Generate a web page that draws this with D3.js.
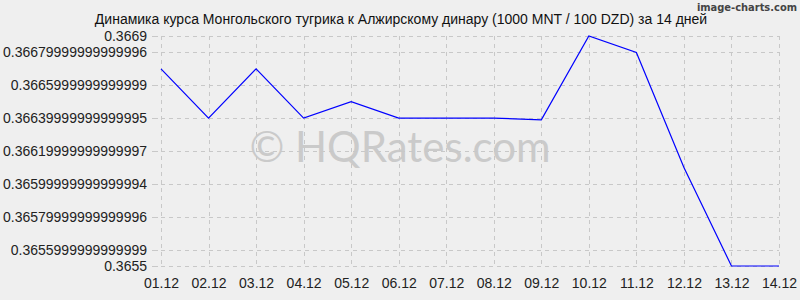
<!DOCTYPE html>
<html><head><meta charset="utf-8">
<script src="https://cdn.jsdelivr.net/npm/d3@7"></script>
<style>
html,body{margin:0;padding:0;background:#efefef;}
svg{display:block;}
</style></head>
<body>
<svg id="chart" width="800" height="300"></svg>
<script>
const categories = ["01.12","02.12","03.12","04.12","05.12","06.12","07.12","08.12","09.12","10.12","11.12","12.12","13.12","14.12"];
const values = [0.3667,0.3664,0.3667,0.3664,0.3665,0.3664,0.3664,0.3664,0.36639,0.3669,0.3668,0.3661,0.3655,0.3655];
const yTickValues = [0.3669,0.3668,0.3666,0.3664,0.3662,0.3660,0.3658,0.3656,0.3655];
const yTickLabels = ["0.3669","0.36679999999999996","0.3665999999999999","0.36639999999999995","0.36619999999999997","0.36599999999999994","0.36579999999999996","0.3655999999999999","0.3655"];
const title = "Динамика курса Монгольского тугрика к Алжирскому динару (1000 MNT / 100 DZD) за 14 дней";

const svg = d3.select("#chart");
const W = 800, H = 300;
const m = {left:161, right:21, top:36, bottom:34};
const x = d3.scalePoint().domain(categories).range([m.left, W - m.right]);
const y = d3.scaleLinear().domain([0.3655, 0.3669]).range([H - m.bottom, m.top]);

svg.append("rect").attr("width", W).attr("height", H).attr("fill", "#efefef");

// watermark
svg.append("text").attr("x", 400).attr("y", 162).attr("text-anchor","middle")
  .attr("font-family","Lato, 'Open Sans', sans-serif").attr("font-size", 42)
  .attr("fill","#cacaca").text("© HQRates.com");

// grid
const grid = svg.append("g").attr("stroke","#c8c8c8").attr("stroke-dasharray","4,4").attr("stroke-width",1);
grid.selectAll("line.h").data(yTickValues).join("line")
  .attr("x1", m.left).attr("x2", W - m.right)
  .attr("y1", d => Math.round(y(d)) + 0.5).attr("y2", d => Math.round(y(d)) + 0.5);
grid.selectAll("line.v").data(categories).join("line")
  .attr("x1", d => Math.round(x(d)) + 0.5).attr("x2", d => Math.round(x(d)) + 0.5)
  .attr("y1", m.top).attr("y2", H - m.bottom);

// y axis
const yAxis = d3.axisLeft(y).tickValues(yTickValues)
  .tickFormat((d,i) => yTickLabels[i]).tickSize(6).tickPadding(5);
const ga = svg.append("g").attr("transform", `translate(${m.left - 3},0)`).call(yAxis);
ga.select(".domain").remove();
ga.selectAll(".tick line").attr("stroke","#c8c8c8");
ga.selectAll(".tick").attr("transform", d => `translate(0,${Math.round(y(d)) + 0.5})`);
ga.selectAll("text").attr("font-family","'Liberation Sans', Arial, sans-serif").attr("font-size",14).attr("fill","#222");

// x axis
const xAxis = d3.axisBottom(x).tickSize(0).tickPadding(12);
const gx = svg.append("g").attr("transform", `translate(0,${H - m.bottom})`).call(xAxis);
gx.select(".domain").remove();
gx.selectAll("text").attr("font-family","'Liberation Sans', Arial, sans-serif").attr("font-size",14).attr("fill","#222");

// line
const line = d3.line().x((d,i) => x(categories[i])).y(d => y(d));
svg.append("path").datum(values).attr("d", line)
  .attr("fill","none").attr("stroke","#0000ff").attr("stroke-width",1.2);

// title
svg.append("text").attr("x", 401).attr("y", 24).attr("text-anchor","middle")
  .attr("font-family","'Liberation Sans', Arial, sans-serif").attr("font-size",14)
  .attr("fill","#111").text(title);

svg.append("text").attr("x", 797).attr("y", 11).attr("text-anchor","end")
  .attr("font-family","'DejaVu Sans Condensed', 'DejaVu Sans', sans-serif").attr("font-size",11)
  .attr("font-weight","bold").attr("fill","#444").text("image-charts.com");
</script>
</body></html>
